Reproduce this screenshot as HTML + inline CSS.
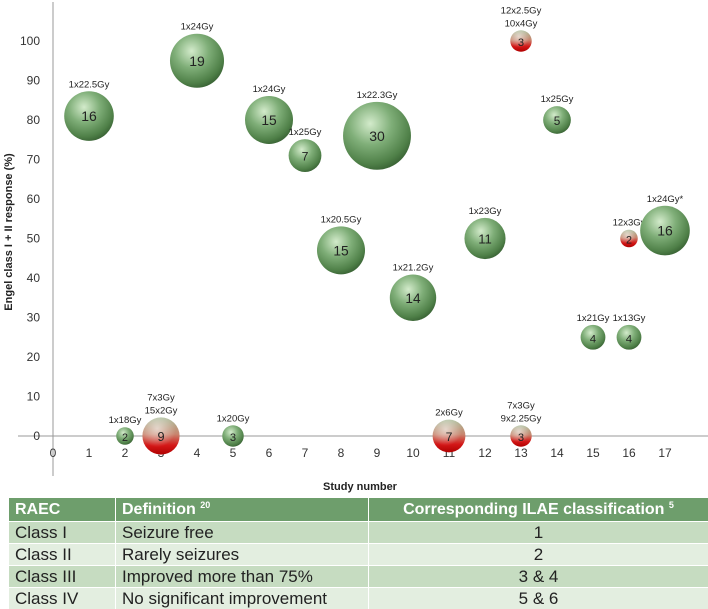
<!DOCTYPE html>
<html><head><meta charset="utf-8"><style>
body{margin:0;width:708px;height:609px;background:#fff;overflow:hidden;font-family:"Liberation Sans",sans-serif}
svg{position:absolute;left:0;top:0}
table{position:absolute;left:8px;top:497px;width:700px;border-collapse:collapse;table-layout:fixed;font-family:"Liberation Sans",sans-serif;font-size:17px;color:#222}
td{height:21px;line-height:21px;padding:0 0 0 6px;border-left:1px solid #fff;border-top:1px solid #fff;white-space:nowrap;overflow:hidden}
tr.h td{background:#6e9e6c;color:#fff;font-weight:bold;font-size:16px;height:23px;line-height:23px}
tr.d td{background:#c6dcc1}tr.l td{background:#e3eee0}
td.c{text-align:center;padding:0}
sup{font-size:9px;line-height:0;vertical-align:6px}
</style></head><body>
<svg width="708" height="497">
<defs>
<radialGradient id="gg" cx="0.4" cy="0.32" r="0.7"><stop offset="0" stop-color="#d3ebcb"/><stop offset="0.45" stop-color="#7fae78"/><stop offset="0.85" stop-color="#4f8048"/><stop offset="1" stop-color="#3b6536"/></radialGradient>
<linearGradient id="rl" x1="0" y1="0" x2="0" y2="1"><stop offset="0" stop-color="#a9bb98"/><stop offset="0.45" stop-color="#c8866f"/><stop offset="0.75" stop-color="#d41818"/><stop offset="1" stop-color="#b00000"/></linearGradient>
<radialGradient id="rh" cx="0.4" cy="0.3" r="0.5"><stop offset="0" stop-color="#fff" stop-opacity="0.6"/><stop offset="1" stop-color="#fff" stop-opacity="0"/></radialGradient>
</defs>
<g id="axes"></g><g id="marks"></g>
<text x="360" y="490" text-anchor="middle" font-size="11" font-weight="bold" fill="#222">Study number</text>
<text transform="translate(12,232) rotate(-90)" text-anchor="middle" font-size="11" font-weight="bold" fill="#222">Engel class I + II response (%)</text>
</svg>
<table>
<colgroup><col style="width:107px"><col style="width:253px"><col></colgroup>
<tr class="h"><td>RAEC</td><td>Definition <sup>20</sup></td><td class="c">Corresponding ILAE classification <sup>5</sup></td></tr>
<tr class="d"><td>Class I</td><td>Seizure free</td><td class="c">1</td></tr>
<tr class="l"><td>Class II</td><td>Rarely seizures</td><td class="c">2</td></tr>
<tr class="d"><td>Class III</td><td>Improved more than 75%</td><td class="c">3 &amp; 4</td></tr>
<tr class="l"><td>Class IV</td><td>No significant improvement</td><td class="c">5 &amp; 6</td></tr>
</table>
<script>
const studies=[1,2,3,4,5,6,7,8,9,10,11,12,13,13,14,15,16,16,17];
const responses=[81,0,0,95,0,80,71,47,76,35,0,50,100,0,80,25,25,50,52];
const counts=[16,2,9,19,3,15,7,15,30,14,7,11,3,3,5,4,4,2,16];
const doses=["1x22.5Gy","1x18Gy","7x3Gy|15x2Gy","1x24Gy","1x20Gy","1x24Gy","1x25Gy","1x20.5Gy","1x22.3Gy","1x21.2Gy","2x6Gy","1x23Gy","12x2.5Gy|10x4Gy","7x3Gy|9x2.25Gy","1x25Gy","1x21Gy","1x13Gy","12x3Gy","1x24Gy*"];
const fractionated=[0,0,1,0,0,0,0,0,0,0,1,0,1,1,0,0,0,1,0];
const xTicks=[0,1,2,3,4,5,6,7,8,9,10,11,12,13,14,15,16,17];
const yTicks=[0,10,20,30,40,50,60,70,80,90,100];
const X=v=>53+v*36.0, Y=v=>436-v*3.95, R=n=>6.2*Math.sqrt(n);
const NS="http://www.w3.org/2000/svg";
function mk(t,a,p){const e=document.createElementNS(NS,t);for(const k in a)e.setAttribute(k,a[k]);p.appendChild(e);return e;}
const ax=document.getElementById('axes'),mg=document.getElementById('marks');
let l=mk('line',{x1:53,y1:2,x2:53,y2:476,stroke:'#999','stroke-width':1},ax);


l=mk('line',{x1:18,y1:436,x2:708,y2:436,stroke:'#999','stroke-width':1},ax);


yTicks.forEach(v=>{const t=mk('text',{x:40,y:Y(v)+4,'text-anchor':'end','font-size':12,fill:'#333'},ax);t.textContent=v;

});
xTicks.forEach(v=>{const t=mk('text',{x:X(v),y:457,'text-anchor':'middle','font-size':12,fill:'#333'},ax);t.textContent=v;

});
studies.forEach((s,i)=>{const cx=X(s),cy=Y(responses[i]),r=R(counts[i]);
const g=mk('g',{},mg);


if(fractionated[i]){mk('circle',{cx,cy,r,fill:'url(#rl)'},g);mk('circle',{cx,cy,r,fill:'url(#rh)'},g);}
else mk('circle',{cx,cy,r,fill:'url(#gg)'},g);
const n=mk('text',{x:cx,y:cy+5,'text-anchor':'middle','font-size':Math.min(14,9+r/5),fill:'#222'},g);n.textContent=counts[i];
const lines=doses[i].split('|');
lines.forEach((d,j)=>{const t=mk('text',{x:cx,y:cy-r-4-(lines.length-1-j)*13,'text-anchor':'middle','font-size':9.5,fill:'#222'},g);t.textContent=d;});
});
</script>
</body></html>
